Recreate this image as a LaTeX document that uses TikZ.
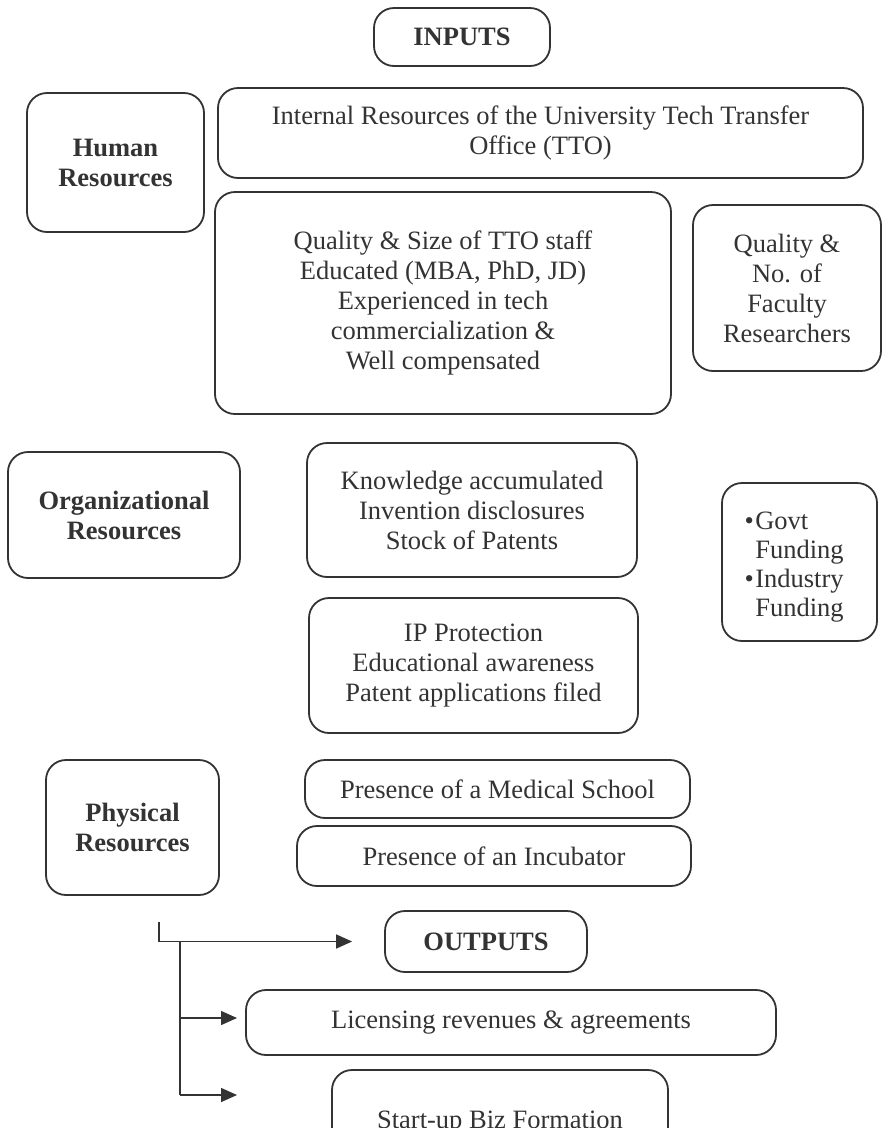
\documentclass[tikz,border=0pt]{standalone}
\usepackage{fontspec}
\setmainfont{Liberation Serif}
\usetikzlibrary{arrows.meta}
\definecolor{ink}{HTML}{333333}
\begin{document}
\begin{tikzpicture}[x=1pt,y=-1pt,
  box/.style={draw=ink, line width=1.8pt, rounded corners=20pt, inner sep=0pt, align=center, text=ink, font=\fontsize{26.5}{30}\selectfont},
  head/.style={box, font=\fontsize{26.5}{30}\selectfont\bfseries},
  conn/.style={draw=ink, line width=1.5pt},
  tip/.style={-{Triangle[length=16pt,width=14pt]}}]
\useasboundingbox (0,0) rectangle (883,1128);
\clip (0,0) rectangle (883,1128);
\fill[white] (0,0) rectangle (883,1128);

\node[head, minimum width=176pt, minimum height=58pt] (inputs) at (462,37) {INPUTS};
\node[head, minimum width=177pt, minimum height=139pt] (human) at (115.5,162.5) {Human\\Resources};
\node[box, minimum width=645pt, minimum height=90pt] (internal) at (540.5,133) {Internal Resources of the University Tech Transfer\\Office (TTO)};
\node[box, minimum width=456pt, minimum height=222pt] (quality) at (443,303) {Quality \& Size of TTO staff\\Educated (MBA, PhD, JD)\\Experienced in tech\\commercialization \&\\Well compensated};
\node[box, minimum width=188pt, minimum height=166pt] (faculty) at (787,288) {Quality \&\\No. of\\Faculty\\Researchers};

\node[head, minimum width=232pt, minimum height=126pt] (org) at (124,515) {Organizational\\Resources};
\node[box, minimum width=330pt, minimum height=134pt] (know) at (472,510) {Knowledge accumulated\\Invention disclosures\\Stock of Patents};
\node[box, minimum width=155pt, minimum height=158pt, align=left, font=\fontsize{26.5}{29}\selectfont] (fund) at (799.5,562) {\rule{0pt}{27pt}\llap{•\hspace{1.5pt}}Govt\\Funding\\\llap{•\hspace{1.5pt}}Industry\hspace{7pt}\\Funding};
\node[box, minimum width=329pt, minimum height=135pt] (ip) at (473.5,665.5) {IP Protection\\Educational awareness\\Patent applications filed};

\node[head, minimum width=173pt, minimum height=135pt] (phys) at (132.5,827.5) {Physical\\Resources};
\node[box, minimum width=385pt, minimum height=58pt] (med) at (497.5,789) {Presence of a Medical School};
\node[box, minimum width=394pt, minimum height=60pt] (incub) at (494,856) {Presence of an Incubator};

\node[head, minimum width=202pt, minimum height=61pt] (outputs) at (486,941.5) {OUTPUTS};
\node[box, minimum width=530pt, minimum height=65pt] (lic) at (511,1022.5) {Licensing revenues \& agreements};
\node[box, minimum width=336pt, minimum height=106pt] (start) at (500,1123) {Start-up Biz Formation};

\coordinate (c0) at (159,922);
\coordinate (j0) at (180,941);
\coordinate (j1) at (180,1018);
\coordinate (j2) at (180,1095);
\coordinate (a1) at (237,1018);
\coordinate (a2) at (237,1095);
\draw[conn, tip, shorten >=32pt] (c0) |- (outputs.west);
\draw[conn] (j0) -- (j2);
\draw[conn, tip] (j1) -- (a1);
\draw[conn, tip] (j2) -- (a2);
\end{tikzpicture}
\end{document}
